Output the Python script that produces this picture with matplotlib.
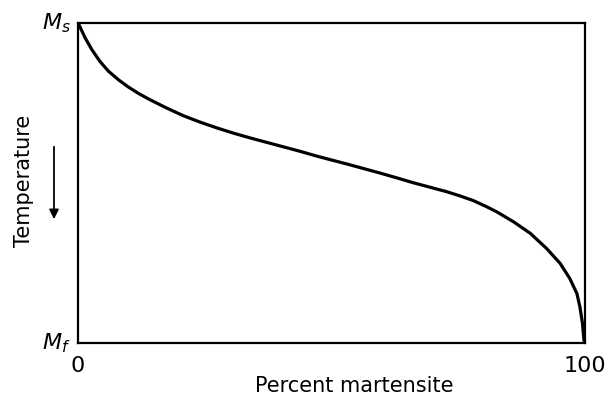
import matplotlib.pyplot as plt

# percent martensite vs. normalised temperature (100 = Ms, 0 = Mf)
pct = [0, 1.4, 2.7, 4.3, 6.0, 8.0, 9.9, 12.0, 14.2, 17.5, 20.8, 24.1, 27.4,
       30.6, 33.9, 37.2, 40.5, 43.8, 47.1, 53.6, 59.6, 62.9, 66.1, 69.4,
       72.7, 75.3, 78.0, 80.6, 82.6, 85.9, 89.2, 92.4, 95.1, 97.0, 98.4,
       99.0, 99.5, 99.8, 100]
temp = [100, 95.3, 91.7, 88.0, 84.9, 82.2, 80.0, 77.9, 76.0, 73.4, 71.0, 69.0,
        67.2, 65.6, 64.1, 62.7, 61.3, 59.9, 58.4, 55.7, 53.1, 51.6, 50.1, 48.7,
        47.3, 46.0, 44.5, 42.6, 41.0, 37.9, 34.3, 29.6, 24.9, 20.2, 15.5,
        11.3, 6.2, 0.9, 0]

fig = plt.figure(figsize=(6.1, 4.09), dpi=100)
ax = fig.add_axes([0.128, 0.161, 0.831, 0.783])
ax.plot(pct, temp, c='k', lw=2.3, solid_capstyle='round', solid_joinstyle='round')
ax.set_xlim(0, 100)
ax.set_ylim(0, 100)
ax.set_xticks([])
ax.set_yticks([])
for s in ax.spines.values():
    s.set_linewidth(1.6)

ax.text(-1.5, 100, "$M_s$", ha='right', va='center', fontsize=16)
ax.text(-1.5, 0, "$M_f$", ha='right', va='center', fontsize=16)
ax.text(0, -4, "0", ha='center', va='top', fontsize=16)
ax.text(100, -4, "100", ha='center', va='top', fontsize=16)
ax.text(0.545, -0.135, "Percent martensite", transform=ax.transAxes,
        ha='center', va='center', fontsize=15)
fig.text(24/610, 1 - 181/409, "Temperature", rotation=90,
         ha='center', va='center', fontsize=15)
ax.annotate("", xy=(54/610, 1 - 222/409), xytext=(54/610, 1 - 144/409),
            xycoords='figure fraction', textcoords='figure fraction',
            arrowprops=dict(arrowstyle='-|>', color='k', lw=1.3,
                            mutation_scale=14))

plt.savefig("out.png", dpi=100)
